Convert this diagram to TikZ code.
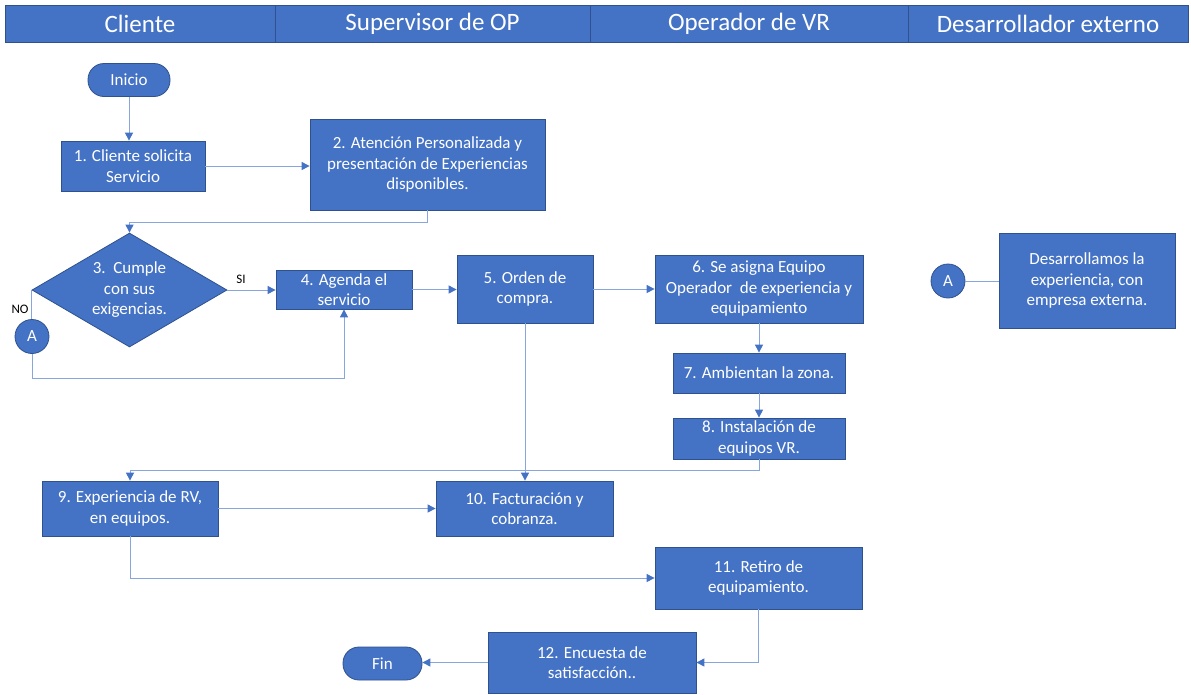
\documentclass[tikz,border=0pt]{standalone}
\usepackage{fontspec}
\setmainfont{Carlito}
\usetikzlibrary{shapes.geometric,arrows.meta}
\definecolor{fillb}{HTML}{4472C4}
\definecolor{edgeb}{HTML}{2F528F}
\definecolor{lineb}{HTML}{86A6DD}
\tikzset{
  hdr/.style={draw=edgeb, fill=fillb, text=white, font=\fontsize{25}{28}\selectfont, minimum height=37pt, inner sep=0pt, line width=0.6pt},
  box/.style={draw=edgeb, fill=fillb, text=white, font=\fontsize{17}{20.5}\selectfont, align=center, inner sep=0pt, line width=0.8pt},
  term/.style={box, rounded corners=16pt},
  conn/.style={draw=edgeb, fill=fillb, text=white, circle, inner sep=0pt, minimum size=34pt, font=\fontsize{17}{20}\selectfont, line width=0.8pt},
  dec/.style={box, diamond, inner sep=0pt},
  link/.style={draw=lineb, line width=1pt},
  arr/.style={link, -{Triangle[width=8pt,length=8pt,color=fillb]}},
  lbl/.style={font=\fontsize{13}{15}\selectfont, text=black, inner sep=0pt}
}
\begin{document}
\begin{tikzpicture}[x=1pt,y=-1pt]
\useasboundingbox[fill=white] (0,0) rectangle (1191,694);
% headers
\node[hdr, minimum width=270pt] (h1) at (140,23.5) {Cliente};
\node[hdr, minimum width=315pt] (h2) at (432.5,23.5) {Supervisor de OP};
\node[hdr, minimum width=318pt] (h3) at (749,23.5) {Operador de VR};
\node[hdr, minimum width=280pt] (h4) at (1048,23.5) {Desarrollador externo};
% nodes
\node[term, minimum width=82pt, minimum height=33pt] (inicio) at (129,80) {Inicio};
\node[box, minimum width=144pt, minimum height=50pt] (b1) at (133,166) {1. Cliente solicita\\Servicio};
\node[box, minimum width=235pt, minimum height=91pt] (b2) at (427.5,164.5) {2. Atención Personalizada y\\presentación de Experiencias\\disponibles.};
\node[dec, minimum width=195pt, minimum height=114pt, aspect=1.71] (d) at (129.5,290) {3.\ \ Cumple\\con sus\\exigencias.};
\node[box, minimum width=136pt, minimum height=39pt] (b4) at (344,289.5) {4. Agenda el\\servicio};
\node[conn] (a1) at (32,336.5) {A};
\node[box, minimum width=136pt, minimum height=68pt] (b5) at (525,289) {5. Orden de\\compra.};
\node[box, minimum width=208pt, minimum height=68pt] (b6) at (759,289) {6. Se asigna Equipo\\Operador\ \ de experiencia y\\equipamiento};
\node[box, minimum width=172pt, minimum height=40pt] (b7) at (759,373) {7. Ambientan la zona.};
\node[box, minimum width=172pt, minimum height=41pt] (b8) at (759,438.5) {8. Instalación de\\equipos VR.};
\node[box, minimum width=176pt, minimum height=55pt] (b9) at (130,508.5) {9. Experiencia de RV,\\en equipos.};
\node[box, minimum width=177pt, minimum height=55pt] (b10) at (524.5,508.5) {10. Facturación y\\cobranza.};
\node[box, minimum width=207pt, minimum height=62pt] (b11) at (758.5,578) {11. Retiro de\\equipamiento.};
\node[box, minimum width=208pt, minimum height=61pt] (b12) at (592,662.5) {12. Encuesta de\\satisfacción..};
\node[term, minimum width=79pt, minimum height=33pt] (fin) at (382.5,663.5) {Fin};
\node[conn] (a2) at (948,281) {A};
\node[box, minimum width=176pt, minimum height=95pt] (dev) at (1087,280.5) {Desarrollamos la\\experiencia, con\\empresa externa.};
% labels
\node[lbl] (si) at (241,279) {SI};
\node[lbl] (no) at (20,309) {NO};
% connectors
\draw[arr] (inicio.south) -- (inicio.south |- b1.north);
\draw[arr] (b1.east) -- (b1.east -| b2.west);
\draw[arr] (b2.south) -- ++(0,12) -| (d.north);
\draw[arr] (d.east) -- (d.east -| b4.west);
\draw[link] (d.west) -- (d.west |- a1.north);
\draw[arr] (a1.south) -- ++(0,24.5) -| (b4.south);
\draw[arr] (b4.east) -- (b4.east -| b5.west);
\draw[arr] (b5.east) -- (b5.east -| b6.west);
\draw[arr] (b6.south) -- (b6.south |- b7.north);
\draw[arr] (b7.south) -- (b7.south |- b8.north);
\draw[arr] (b8.south) -- ++(0,11) -| (b9.north);
\draw[arr] (b5.south) -- (b5.south |- b10.north);
\draw[arr] (b9.east) -- (b9.east -| b10.west);
\draw[arr] (b9.south) |- (b11.west);
\draw[arr] (b11.south) |- (b12.east);
\draw[arr] (b12.west) -- (b12.west -| fin.east);
\draw[link] (a2.east) -- (a2.east -| dev.west);
\end{tikzpicture}
\end{document}
